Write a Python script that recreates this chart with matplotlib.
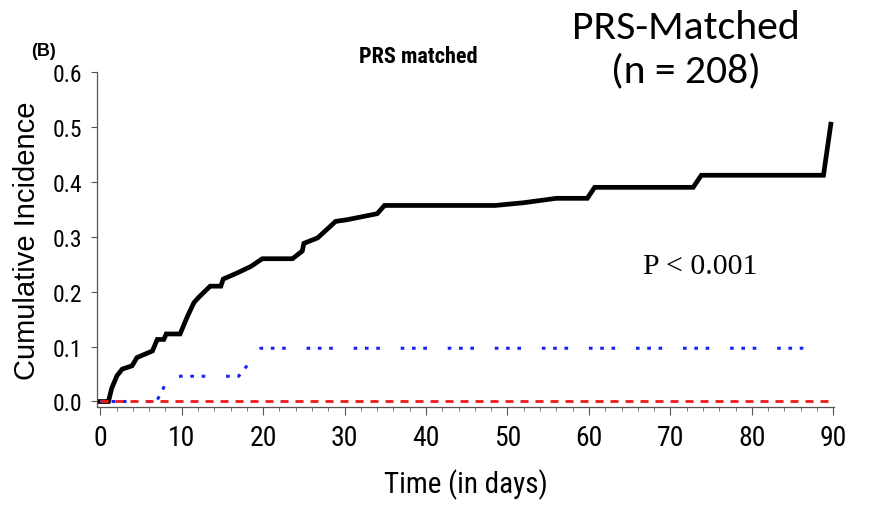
import matplotlib.pyplot as plt
from matplotlib.ticker import MultipleLocator

# cumulative incidence curves (days, incidence)
black_days = [0, 1.0, 1.4, 2.05, 2.7, 3.9, 4.5, 6.4, 7.0, 7.8, 8.1, 9.8, 10.7, 11.5, 12.1,
              13.5, 14.8, 15.1, 16.8, 18.5, 19.9, 23.6, 24.8, 25.0, 26.7, 28.9, 30.3, 34.0,
              34.9, 48.5, 52.0, 56.0, 59.8, 60.7, 72.8, 73.8, 88.8, 89.7]
black_ci = [0, 0, 0.024, 0.047, 0.059, 0.065, 0.080, 0.092, 0.113, 0.113, 0.123, 0.123, 0.155,
            0.18, 0.19, 0.21, 0.21, 0.223, 0.234, 0.246, 0.26, 0.26, 0.274, 0.288, 0.298, 0.328,
            0.331, 0.342, 0.357, 0.357, 0.362, 0.37, 0.37, 0.39, 0.39, 0.412, 0.412, 0.505]

blue_days = [0, 6.9, 8.5, 17.0, 19.7, 88.5]
blue_ci = [0, 0, 0.046, 0.046, 0.097, 0.097]

red_days = [0, 90]
red_ci = [0, 0]

x_ticks = [0, 10, 20, 30, 40, 50, 60, 70, 80, 90]
y_ticks = [0.0, 0.1, 0.2, 0.3, 0.4, 0.5, 0.6]

narrow = 'Roboto Condensed'

fig = plt.figure(figsize=(8.71, 5.06), dpi=100)
ax = fig.add_axes([0.1114, 0.1937, 0.8462, 0.662])

ax.plot(black_days, black_ci, color='black', lw=3.4, solid_joinstyle='miter', zorder=3)
ax.plot(blue_days, blue_ci, color='#1a22f0', lw=2.2, dash_capstyle='butt',
        dashes=(1.2, 2.5, 1.2, 2.5, 1.2, 6.8), zorder=4)
ax.plot(red_days, red_ci, color='#f01a1a', lw=2.0, dash_capstyle='butt',
        dashes=(2.9, 2.5), zorder=5)

ax.set_xlim(-0.4, 90.1)
ax.set_ylim(-0.01, 0.6)
ax.set_xticks(x_ticks)
ax.set_yticks(y_ticks)
ax.xaxis.set_minor_locator(MultipleLocator(2))
ax.set_xticklabels([str(t) for t in x_ticks], fontsize=20, family=narrow)
ax.set_yticklabels([f'{t:.1f}' for t in y_ticks], fontsize=17, family=narrow)

for side in ['top', 'right']:
    ax.spines[side].set_visible(False)
for side in ['left', 'bottom']:
    ax.spines[side].set_color('#555555')
    ax.spines[side].set_linewidth(0.9)

ax.tick_params(axis='x', which='major', length=5.5, width=0.8, color='#555555', pad=7)
ax.tick_params(axis='x', which='minor', length=3, width=0.7, color='#777777')
ax.tick_params(axis='y', which='major', length=4, width=0.8, color='#555555', pad=7)

ax.set_xlabel('Time (in days)', fontsize=21, family=narrow, labelpad=12)
ax.set_ylabel('Cumulative Incidence', fontsize=21, family='Liberation Sans', labelpad=8)

fig.text(44 / 871, 1 - 51 / 506, '(B)', fontsize=13, fontweight='bold',
         family='Liberation Sans', ha='center', va='center')
fig.text(418 / 871, 1 - 57 / 506, 'PRS matched', fontsize=16, fontweight='bold',
         family=narrow, ha='center', va='center')
fig.text(686 / 871, 1 - 28 / 506, 'PRS-Matched', fontsize=30, family='Carlito',
         ha='center', va='center')
fig.text(686 / 871, 1 - 71 / 506, '(n = 208)', fontsize=30, family='Carlito',
         ha='center', va='center')
fig.text(700 / 871, 1 - 267 / 506, 'P < 0.001', fontsize=21.5, family='Liberation Serif',
         ha='center', va='center')

fig.savefig('out.png', dpi=100)
